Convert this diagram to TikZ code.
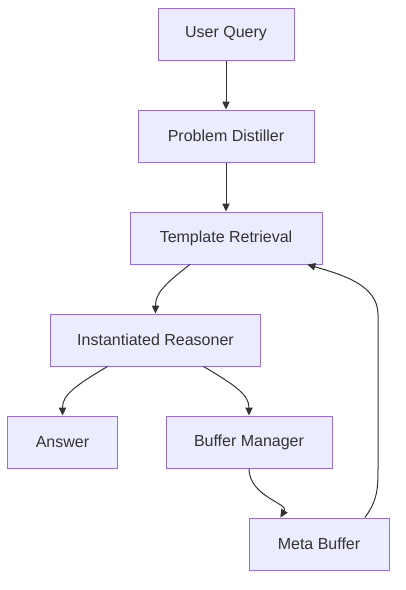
\documentclass[tikz,border=0pt]{standalone}
\usepackage{fontspec}
\setmainfont{Liberation Sans}
\usetikzlibrary{arrows.meta,calc}
\definecolor{nodefill}{HTML}{ECECFF}
\definecolor{nodeline}{HTML}{9370DB}
\definecolor{edgecol}{HTML}{333333}
\begin{document}
\begin{tikzpicture}[x=0.75pt,y=-0.75pt,
  box/.style={draw=nodeline,fill=nodefill,line width=0.75pt,rectangle,
    minimum height=39pt,inner sep=0pt,text=edgecol,font=\fontsize{12pt}{14pt}\selectfont},
  edge/.style={draw=edgecol,line width=0.75pt,-{Triangle[length=6pt,width=5.5pt]}}]
\useasboundingbox (0,0) rectangle (406,590);
\node[box,minimum width=102pt] (uq) at (226,34) {User Query};
\node[box,minimum width=132pt] (pd) at (226,136) {Problem Distiller};
\node[box,minimum width=144pt] (tr) at (226,238) {Template Retrieval};
\node[box,minimum width=158pt] (ir) at (155.5,340) {Instantiated Reasoner};
\node[box,minimum width=82pt] (an) at (62.5,442) {Answer};
\node[box,minimum width=124.5pt] (bm) at (249,442) {Buffer Manager};
\node[box,minimum width=105pt] (mb) at (319,544) {Meta Buffer};
\draw[edge] (uq) -- (pd);
\draw[edge] (pd) -- (tr);
\draw[edge] ([xshift=-27pt]tr.south) .. controls ($(tr.south)+(-62,20)$) and ($(ir.north)+(0,-20)$) .. (ir.north);
\draw[edge] ([xshift=-36pt]ir.south) .. controls ($(ir.south)+(-82,20)$) and ($(an.north)+(0,-20)$) .. (an.north);
\draw[edge] ([xshift=36pt]ir.south) .. controls ($(ir.south)+(82,20)$) and ($(bm.north)+(0,-20)$) .. (bm.north);
\draw[edge] (bm.south) .. controls ($(bm.south)+(0,28)$) and ($(mb.north)+(-30,-14)$) .. ([xshift=-29pt]mb.north);
\draw[edge] ([xshift=34.5pt]mb.north) .. controls ($(mb.north)+(59,-18)$) and ($(mb.north)+(59,-30)$) .. ($(mb.north)+(59,-50)$)
  -- ($(tr.south)+(152,50)$) .. controls ($(tr.south)+(152,20)$) and ($(tr.south)+(115,10)$) .. ([xshift=61pt]tr.south);
\end{tikzpicture}
\end{document}
